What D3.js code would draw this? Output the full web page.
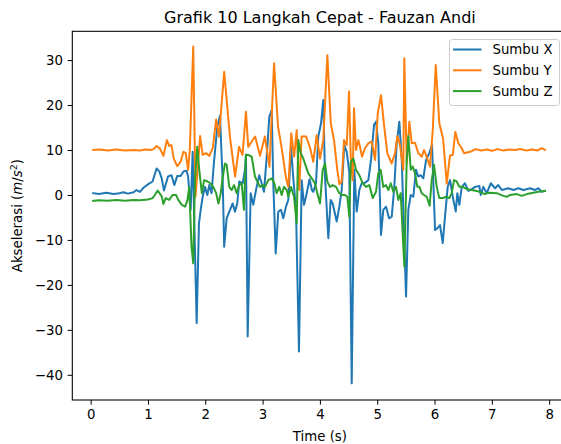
<!DOCTYPE html>
<html>
<head>
<meta charset="utf-8">
<script src="https://cdn.jsdelivr.net/npm/d3@7"></script>
<style>
  html, body { margin: 0; padding: 0; background: #fff; }
  svg { display: block; font-family: "DejaVu Sans", sans-serif; }
</style>
</head>
<body>
<div id="chart"></div>
<script>
// Akselerasi 3 sumbu - 10 langkah cepat
const timeX = [0.045,0.15,0.27,0.40,0.50,0.57,0.65,0.75,0.80,0.86,0.92,1.005,1.08,1.15,1.20,1.24,1.28,1.35,1.41,1.46,1.51,1.57,1.62,1.675,1.70,1.745,1.78,1.85,1.89,1.92,1.955,1.995,2.035,2.07,2.11,2.15,2.21,2.257,2.286,2.304,2.33,2.373,2.419,2.478,2.518,2.558,2.593,2.653,2.693,2.71,2.74,2.792,2.838,2.885,2.942,2.984,3.024,3.072,3.117,3.159,3.187,3.229,3.274,3.321,3.361,3.408,3.449,3.496,3.536,3.583,3.635,3.682,3.723,3.757,3.82,3.86,3.885,3.932,3.972,4.019,4.059,4.089,4.147,4.188,4.223,4.293,4.339,4.38,4.426,4.468,4.513,4.555,4.60,4.642,4.688,4.729,4.787,4.845,4.892,4.944,4.979,5.019,5.066,5.106,5.154,5.206,5.253,5.298,5.34,5.386,5.428,5.503,5.543,5.585,5.63,5.677,5.717,5.759,5.805,5.852,5.909,5.956,6.009,6.049,6.096,6.143,6.183,6.23,6.271,6.318,6.37,6.398,6.433,6.475,6.532,6.59,6.649,6.707,6.782,6.806,6.852,6.911,6.981,7.056,7.113,7.173,7.288,7.375,7.462,7.55,7.667,7.754,7.811,7.871,7.928];
const accX = [0.4,0.2,0.5,0.2,0.4,0.6,0.3,0.6,1.1,0.7,1.6,2.4,3.0,5.9,5.2,3.7,1.0,4.1,4.4,2.2,4.2,4.2,5.2,5.4,4.1,-3.3,9.6,-28.5,-6.3,-3.3,-0.4,1.8,0.0,2.2,0.4,7.0,15.2,17.6,8.5,3.3,-11.5,-5.2,-3.7,-1.9,-3.7,-1.9,3.0,2.6,5.6,9.0,-31.5,0.4,-2.2,1.1,4.4,2.6,0.7,8.5,17.4,18.9,2.6,-13.0,-3.7,-3.3,-5.2,-2.6,-1.1,10.7,3.7,-3.3,-34.8,3.3,-2.2,-0.4,3.5,1.1,0.7,2.6,13.0,15.9,21.1,4.1,-9.6,-1.1,-1.9,-5.9,-2.6,1.1,11.1,9.6,5.0,-41.9,5.6,-3.7,1.1,2.6,2.7,3.3,7.8,15.6,16.3,11.5,-8.9,-3.3,-2.6,-5.2,-4.8,1.8,11.5,16.3,7.8,-22.6,-3.3,0.0,-0.4,5.6,4.1,4.4,3.7,7.8,9.3,11.1,-7.8,-7.4,-6.7,-10.7,-4.8,1.8,3.3,-0.4,-3.7,0.4,-2.2,1.8,2.6,0.9,1.3,1.8,2.0,0.0,1.8,0.4,2.6,1.5,2.2,1.1,1.5,1.1,1.5,1.1,1.5,1.1,1.5,0.7,0.9];

const timeY = [0.045,0.16,0.30,0.45,0.60,0.75,0.86,0.95,1.04,1.10,1.15,1.21,1.27,1.33,1.37,1.41,1.45,1.51,1.57,1.62,1.66,1.70,1.73,1.79,1.83,1.91,1.955,2.01,2.07,2.13,2.19,2.24,2.33,2.43,2.52,2.59,2.65,2.71,2.75,2.81,2.87,2.955,3.04,3.12,3.20,3.27,3.33,3.41,3.45,3.50,3.55,3.595,3.64,3.68,3.76,3.83,3.885,3.944,4.002,4.059,4.13,4.19,4.246,4.304,4.339,4.38,4.421,4.468,4.508,4.538,4.572,4.595,4.63,4.67,4.70,4.735,4.787,4.845,4.904,4.962,5.009,5.066,5.119,5.176,5.253,5.311,5.351,5.398,5.455,5.473,5.515,5.56,5.602,5.66,5.717,5.777,5.817,5.874,5.921,5.969,6.021,6.084,6.15,6.213,6.27,6.318,6.363,6.415,6.475,6.515,6.62,6.72,6.81,6.92,7.00,7.10,7.20,7.30,7.40,7.50,7.60,7.70,7.80,7.87,7.928];
const accY = [10.0,10.1,9.9,10.1,9.9,10.0,9.9,10.1,10.0,10.2,10.9,10.3,8.7,12.2,10.9,11.1,8.1,6.4,7.4,9.6,9.3,5.6,10.0,33.0,-0.4,13.1,8.9,9.3,8.7,10.4,16.8,13.0,27.4,13.0,4.1,10.7,8.9,18.5,10.7,11.9,13.0,8.7,13.0,6.3,29.3,15.2,10.7,3.7,1.8,13.7,8.5,14.4,1.1,13.0,13.0,10.4,7.4,13.3,8.1,12.2,31.1,15.9,12.2,5.6,2.4,3.0,12.2,11.1,23.0,8.5,3.3,19.3,10.0,12.2,10.7,8.5,10.4,11.5,11.9,7.8,18.1,22.2,15.6,9.3,7.0,9.3,13.1,11.1,5.6,30.4,7.0,16.3,11.5,11.6,9.3,8.5,10.0,8.1,6.3,14.4,28.9,15.9,12.5,2.5,8.8,8.9,14.0,11.5,10.4,9.3,9.6,10.2,9.9,10.1,9.8,10.2,9.9,10.1,10.0,10.2,9.9,10.1,9.9,10.4,10.0];

const timeZ = [0.045,0.15,0.30,0.45,0.60,0.75,0.86,1.00,1.08,1.12,1.17,1.24,1.27,1.31,1.37,1.43,1.49,1.53,1.59,1.65,1.69,1.72,1.76,1.79,1.82,1.86,1.895,1.94,1.98,2.04,2.09,2.14,2.19,2.23,2.27,2.30,2.344,2.373,2.419,2.461,2.501,2.548,2.593,2.635,2.675,2.71,2.75,2.81,2.867,2.908,2.955,3.002,3.042,3.099,3.159,3.204,3.246,3.291,3.333,3.373,3.421,3.449,3.496,3.548,3.595,3.623,3.665,3.71,3.757,3.798,3.857,3.914,3.955,4.002,4.049,4.089,4.129,4.176,4.223,4.281,4.339,4.386,4.438,4.478,4.513,4.538,4.583,4.63,4.688,4.747,4.805,4.862,4.921,4.979,5.019,5.061,5.106,5.154,5.194,5.236,5.281,5.328,5.368,5.41,5.473,5.515,5.543,5.585,5.62,5.66,5.70,5.735,5.777,5.817,5.864,5.915,5.951,5.991,6.038,6.084,6.143,6.201,6.258,6.30,6.34,6.387,6.433,6.492,6.562,6.649,6.736,6.824,6.881,6.911,6.969,7.086,7.201,7.26,7.318,7.435,7.522,7.609,7.724,7.811,7.928];
const accZ = [-1.3,-1.2,-1.3,-1.1,-1.3,-1.1,-1.2,-1.0,-0.7,0.0,1.0,-0.3,-2.0,-0.7,-1.1,0.0,0.0,-1.1,-2.2,-2.6,-1.1,1.8,-11.5,-15.2,3.3,10.7,5.6,0.4,3.3,3.0,2.6,1.8,0.4,-1.9,0.4,3.5,7.0,6.7,1.8,1.1,2.2,0.4,2.2,2.6,-3.3,8.9,8.9,8.5,4.1,3.0,1.8,2.2,1.8,3.3,3.7,2.6,0.4,1.8,0.0,1.8,1.1,-0.4,1.8,-0.4,-6.3,12.2,9.3,8.1,6.3,4.8,3.7,2.6,0.4,-1.9,5.6,7.0,3.0,1.8,2.2,1.8,0.4,0.0,0.0,-0.4,-4.8,7.4,8.1,5.6,4.4,2.6,1.8,2.2,-0.7,0.7,4.8,5.6,1.8,2.2,1.1,2.6,0.7,1.8,-1.1,0.4,-15.9,7.8,13.1,5.6,6.3,4.8,1.8,1.8,0.4,0.0,-0.4,-2.4,3.3,6.7,1.8,-0.7,-0.7,-0.4,-0.7,0.4,3.3,3.0,1.8,1.8,1.3,1.1,0.9,0.5,0.2,0.4,0.5,0.4,-0.2,-0.4,0.0,0.2,-0.2,0.2,0.5,0.7,0.9];

const seriesNames = ['Sumbu X', 'Sumbu Y', 'Sumbu Z'];
const xTicks = [0, 1, 2, 3, 4, 5, 6, 7, 8];
const yTicks = [-40, -30, -20, -10, 0, 10, 20, 30];

(function(){
  const width = 561, height = 444;
  const margin = {top: 31.3, left: 72.3, right: 567.5, bottom: 400};
  const colors = ['#1f77b4', '#ff7f0e', '#2ca02c'];

  const series = [
    d3.zip(timeX, accX),
    d3.zip(timeY, accY),
    d3.zip(timeZ, accZ)
  ];

  const svg = d3.select('#chart').append('svg')
    .attr('width', width)
    .attr('height', height);

  const x = d3.scaleLinear().domain([-0.32, 8.32]).range([margin.left, margin.right]);
  const y = d3.scaleLinear().domain([-45.6, 36.4]).range([margin.bottom, margin.top]);

  const line = d3.line()
    .x(d => x(d[0]))
    .y(d => y(d[1]));

  svg.append('defs').append('clipPath').attr('id', 'plotclip')
    .append('rect')
    .attr('x', margin.left).attr('y', margin.top)
    .attr('width', margin.right - margin.left)
    .attr('height', margin.bottom - margin.top);

  const plot = svg.append('g').attr('clip-path', 'url(#plotclip)');
  series.forEach((s, i) => {
    plot.append('path')
      .datum(s)
      .attr('fill', 'none')
      .attr('stroke', colors[i])
      .attr('stroke-width', 2)
      .attr('stroke-linejoin', 'round')
      .attr('stroke-linecap', 'square')
      .attr('d', line);
  });

  // axes
  const xAxis = svg.append('g')
    .attr('transform', `translate(0,${margin.bottom})`)
    .call(d3.axisBottom(x).tickValues(xTicks).tickSize(4.7).tickPadding(4.7).tickSizeOuter(0));
  const yAxis = svg.append('g')
    .attr('transform', `translate(${margin.left},0)`)
    .call(d3.axisLeft(y).tickValues(yTicks).tickSize(4.7).tickPadding(4.7).tickSizeOuter(0));

  [xAxis, yAxis].forEach(a => {
    a.select('.domain').remove();
    a.selectAll('line').attr('stroke', '#000').attr('stroke-width', 1);
    a.selectAll('text')
      .attr('font-family', '"DejaVu Sans", sans-serif')
      .attr('font-size', 13.3)
      .attr('fill', '#000');
  });

  // spines
  svg.append('rect')
    .attr('x', margin.left).attr('y', margin.top)
    .attr('width', margin.right - margin.left)
    .attr('height', margin.bottom - margin.top)
    .attr('fill', 'none')
    .attr('stroke', '#000')
    .attr('stroke-width', 1.07);

  // title and labels
  svg.append('text')
    .attr('x', (margin.left + margin.right) / 2)
    .attr('y', 23)
    .attr('text-anchor', 'middle')
    .attr('font-size', 16)
    .attr('fill', '#000')
    .text('Grafik 10 Langkah Cepat - Fauzan Andi');

  svg.append('text')
    .attr('x', (margin.left + margin.right) / 2)
    .attr('y', 441)
    .attr('text-anchor', 'middle')
    .attr('font-size', 13.3)
    .attr('fill', '#000')
    .text('Time (s)');

  const yl = svg.append('text')
    .attr('transform', `translate(22,${(margin.top + margin.bottom) / 2}) rotate(-90)`)
    .attr('text-anchor', 'middle')
    .attr('font-size', 13.3)
    .attr('fill', '#000');
  yl.append('tspan').text('Akselerasi (');
  yl.append('tspan').attr('font-style', 'italic').text('m');
  yl.append('tspan').text('/');
  yl.append('tspan').attr('font-style', 'italic').text('s');
  yl.append('tspan').attr('font-size', 9.5).attr('dy', -5).text('2');
  yl.append('tspan').attr('dy', 5).text(')');

  // legend
  const legend = svg.append('g');
  legend.append('rect')
    .attr('x', 449.5).attr('y', 39.5)
    .attr('width', 110).attr('height', 66)
    .attr('rx', 3)
    .attr('fill', '#fff')
    .attr('fill-opacity', 0.8)
    .attr('stroke', '#ccc')
    .attr('stroke-width', 1);
  seriesNames.forEach((name, i) => {
    const ly = 49.5 + i * 20.8;
    legend.append('line')
      .attr('x1', 453).attr('x2', 481.5)
      .attr('y1', ly).attr('y2', ly)
      .attr('stroke', colors[i])
      .attr('stroke-width', 2);
    legend.append('text')
      .attr('x', 492.5)
      .attr('y', ly + 4.7)
      .attr('font-size', 13.3)
      .attr('fill', '#000')
      .text(name);
  });
})();
</script>
</body>
</html>
